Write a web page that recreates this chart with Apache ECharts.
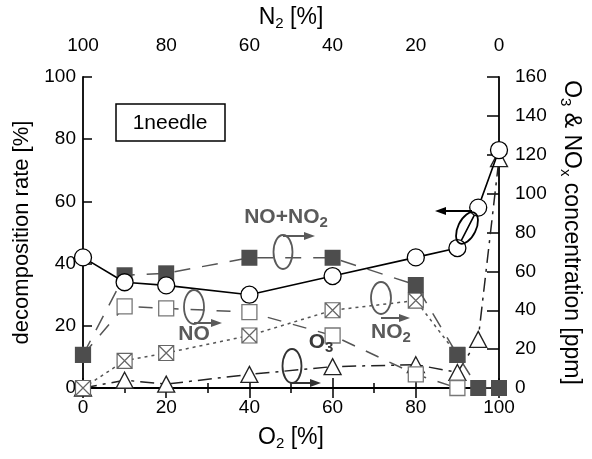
<!DOCTYPE html>
<html><head><meta charset="utf-8">
<script src="https://cdn.jsdelivr.net/npm/echarts@6/dist/echarts.min.js"></script>
<style>html,body{margin:0;padding:0;background:#fff}#c{width:592px;height:459px}</style>
</head><body><div id="c"></div>
<script>
// ---- data ----
const o2 = [0, 10, 20, 40, 60, 80, 90, 95, 100];
const decompositionRate = [42, 34, 33, 30, 36, 42, 45, 58, 76.5];
const noPlusNo2 = [17, 58, 59, 67, 67, 53, 17, 0, 0];
const noX = [0, 10, 20, 40, 60, 80, 90];
const noVals = [17, 42, 41, 39, 27, 7, 0];
const no2X = [0, 10, 20, 40, 60, 80, 90];
const no2Vals = [0, 14, 18, 27, 40, 45, 17];
const o3Vals = [0, 4, 2, 7, 11, 12, 8, 25, 118];
const bottomTicks = [0, 20, 40, 60, 80, 100];
const leftTicks = [0, 20, 40, 60, 80, 100];
const rightTicks = [0, 20, 40, 60, 80, 100, 120, 140, 160];

const zip = (xs, ys) => xs.map((x, i) => [x, ys[i]]);
const FONT = 'Liberation Sans, Arial, sans-serif';
const chart = echarts.init(document.getElementById('c'), null, {renderer: 'canvas'});

const crossSq = 'path://M0 0H20V20H0Z M0 0L20 20 M20 0L0 20';
const TS = 23;
const nameRich = {
  t: {fontSize: TS, fontFamily: FONT, color: '#000'},
  s: {fontSize: 15, fontFamily: FONT, color: '#000', padding: [12, 0, 0, 0]}
};
const nameStyle = {fontSize: TS, fontFamily: FONT, color: '#000', rich: nameRich};
const tickLbl = {fontSize: 19, fontFamily: FONT, color: '#000'};

function arrow(x1, y1, x2, y2, color) {
  const ang = Math.atan2(y2 - y1, x2 - x1);
  const L = 11, W = 4;
  const bx = x2 - L * Math.cos(ang), by = y2 - L * Math.sin(ang);
  const px = -Math.sin(ang) * W, py = Math.cos(ang) * W;
  return [
    {type: 'line', shape: {x1, y1, x2: bx, y2: by}, style: {stroke: color, lineWidth: 2}, z: 100},
    {type: 'polygon', shape: {points: [[x2, y2], [bx + px, by + py], [bx - px, by - py]]}, style: {fill: color}, z: 100}
  ];
}
function ell(cx, cy, rx, ry, color, rot) {
  return {type: 'ellipse', x: cx, y: cy, rotation: rot || 0, shape: {cx: 0, cy: 0, rx, ry},
    style: {fill: 'none', stroke: color, lineWidth: 1.8}, z: 100};
}
const gray = '#5a5a5a';
const annRich = (c) => ({b: {font: 'bold 21px ' + FONT, fill: c}, s: {font: 'bold 15px ' + FONT, fill: c, padding: [11, 0, 0, 0]}});
const graphics = [
  {type: 'rect', shape: {x: 116, y: 104, width: 109, height: 37}, style: {fill: '#fff', stroke: '#000', lineWidth: 1.5}, z: 100},
  {type: 'text', x: 170, y: 123, style: {text: '1needle', font: '21px ' + FONT, fill: '#000', textAlign: 'center', textVerticalAlign: 'middle'}, z: 101},
  {type: 'text', x: 286, y: 217, style: {text: '{b|NO+NO}{s|2}', textAlign: 'center', textVerticalAlign: 'middle', rich: annRich(gray)}, z: 101},
  {type: 'text', x: 194, y: 334, style: {text: 'NO', font: 'bold 21px ' + FONT, fill: gray, textAlign: 'center', textVerticalAlign: 'middle'}, z: 101},
  {type: 'text', x: 321, y: 342, style: {text: '{b|O}{s|3}', textAlign: 'center', textVerticalAlign: 'middle', rich: annRich('#3a3a3a')}, z: 101},
  {type: 'text', x: 391, y: 332, style: {text: '{b|NO}{s|2}', textAlign: 'center', textVerticalAlign: 'middle', rich: annRich(gray)}, z: 101},
  ell(283, 252, 9.5, 17, gray),
  ...arrow(283, 236, 315, 236, gray),
  ell(194, 307, 10, 17, gray),
  ...arrow(194, 323, 222, 323, gray),
  ell(292, 366, 9.5, 17, '#333'),
  ...arrow(292, 383, 321, 383, '#333'),
  ell(381, 298, 10, 16, gray),
  ...arrow(381, 318, 410, 318, gray),
  ell(467, 228, 9, 17, '#000', -0.45),
  ...arrow(472, 211, 435, 211, '#000')
];

const option = {
  animation: false,
  backgroundColor: '#fff',
  grid: {left: 83, right: 93, top: 77, bottom: 71, containLabel: false},
  xAxis: [
    {type: 'value', position: 'bottom', min: 0, max: 100, interval: 20,
      name: '{t|O}{s|2}{t| [%]}', nameLocation: 'middle', nameGap: 36,
      nameTextStyle: nameStyle,
      axisLine: {show: true, lineStyle: {color: '#000', width: 1.8}},
      axisTick: {show: true, inside: true, length: 10, lineStyle: {color: '#000', width: 1.5}},
      minorTick: {show: true, splitNumber: 2, length: 5, lineStyle: {color: '#000', width: 1.5}},
      axisLabel: Object.assign({margin: 10, formatter: v => bottomTicks.includes(v) ? String(v) : ''}, tickLbl),
      splitLine: {show: false}},
    {type: 'value', position: 'top', min: 0, max: 100, interval: 20, inverse: true,
      name: '{t|N}{s|2}{t| [%]}', nameLocation: 'middle', nameGap: 41,
      nameTextStyle: nameStyle,
      axisLine: {show: true, lineStyle: {color: '#000', width: 1.8}},
      axisTick: {show: true, inside: true, length: 10, lineStyle: {color: '#000', width: 1.5}},
      minorTick: {show: true, splitNumber: 2, length: 5, lineStyle: {color: '#000', width: 1.5}},
      axisLabel: Object.assign({margin: 22, formatter: v => bottomTicks.includes(v) ? String(v) : ''}, tickLbl),
      splitLine: {show: false}},
  ],
  yAxis: [
    {type: 'value', position: 'left', min: 0, max: 100, interval: 20,
      name: 'decomposition rate [%]', nameLocation: 'middle', nameGap: 41,
      nameTextStyle: {fontSize: 22, fontFamily: FONT, color: '#000'},
      axisLine: {show: true, lineStyle: {color: '#000', width: 1.8}},
      axisTick: {show: true, inside: true, length: 9, lineStyle: {color: '#000', width: 1.5}},
      axisLabel: Object.assign({margin: 7, formatter: v => leftTicks.includes(v) ? String(v) : ''}, tickLbl),
      splitLine: {show: false}},
    {type: 'value', position: 'right', min: 0, max: 160, interval: 20,
      name: '{t|O}{s|3}{t| & NO}{s|x}{t| concentration [ppm]}', nameLocation: 'middle', nameGap: 55, nameRotate: -90,
      nameTextStyle: nameStyle,
      axisLine: {show: true, lineStyle: {color: '#000', width: 1.8}},
      axisTick: {show: true, inside: true, length: 12, lineStyle: {color: '#000', width: 1.5}},
      axisLabel: Object.assign({margin: 16, formatter: v => rightTicks.includes(v) ? String(v) : ''}, tickLbl),
      splitLine: {show: false}}
  ],
  series: [
    {name: 'O3', type: 'line', xAxisIndex: 0, yAxisIndex: 1, data: zip(o2, o3Vals),
      symbol: 'triangle', symbolSize: [17, 16],
      lineStyle: {color: '#222', width: 1.5, type: [14, 6, 3, 6]},
      itemStyle: {color: '#fff', borderColor: '#222', borderWidth: 1.3}, z: 2},
    {name: 'NO', type: 'line', xAxisIndex: 0, yAxisIndex: 1, data: zip(noX, noVals),
      symbol: 'rect', symbolSize: 15,
      lineStyle: {color: '#555', width: 1.5, type: [14, 12]},
      itemStyle: {color: '#fff', borderColor: '#777', borderWidth: 1.3}, z: 3},
    {name: 'NO2', type: 'line', xAxisIndex: 0, yAxisIndex: 1, data: zip(no2X, no2Vals),
      symbol: crossSq, symbolSize: 15, symbolKeepAspect: true,
      lineStyle: {color: '#555', width: 1.5, type: [3, 4]},
      itemStyle: {color: '#fff', borderColor: '#666', borderWidth: 1.2}, z: 4},
    {name: 'NO+NO2', type: 'line', xAxisIndex: 0, yAxisIndex: 1, data: zip(o2, noPlusNo2),
      symbol: 'rect', symbolSize: 16,
      lineStyle: {color: '#555', width: 1.5, type: [16, 12]},
      itemStyle: {color: '#4d4d4d', borderColor: '#4d4d4d', borderWidth: 0}, z: 5},
    {name: 'decomposition', type: 'line', xAxisIndex: 0, yAxisIndex: 0, data: zip(o2, decompositionRate),
      symbol: 'circle', symbolSize: 17,
      lineStyle: {color: '#000', width: 1.6},
      itemStyle: {color: '#fff', borderColor: '#000', borderWidth: 1.3}, z: 6}
  ],
  graphic: graphics
};
chart.setOption(option);
</script></body></html>
